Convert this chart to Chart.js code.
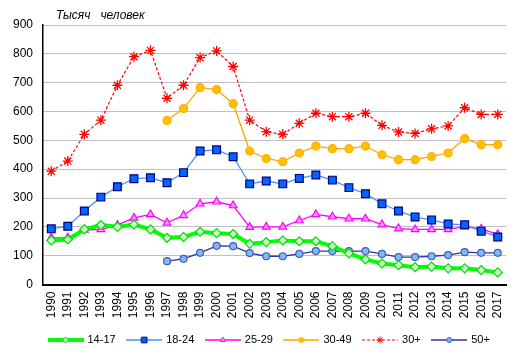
<!DOCTYPE html>
<html>
<head>
<meta charset="utf-8">
<script src="https://cdn.jsdelivr.net/npm/chart.js@4/dist/chart.umd.min.js"></script>
<style>
html,body{margin:0;padding:0;background:#fff;}
canvas{display:block;}
</style>
</head>
<body>
<canvas id="c" width="522" height="359"></canvas>
<script>
const years = ['1990','1991','1992','1993','1994','1995','1996','1997','1998','1999','2000','2001','2002','2003','2004','2005','2006','2007','2008','2009','2010','2011','2012','2013','2014','2015','2016','2017'];
const yTicks = [0,100,200,300,400,500,600,700,800,900];
const unitLabel = 'Тысяч   человек';
const seriesNames = ['14-17','18-24','25-29','30-49','30+','50+'];
const s1417 = [153,156,191,206,200,208,191,162,165,183,178,175,141,147,153,150,150,133,108,87,73,67,60,62,56,56,50,42];
const s1824 = [193,202,255,303,339,367,370,353,388,463,467,443,349,359,349,368,380,362,336,315,280,255,234,224,210,207,185,165];
const s2529 = [162,162,189,191,206,231,243,214,240,280,287,274,199,200,200,222,243,235,228,228,208,194,191,191,191,201,193,174];
const s3049 = [null,null,null,null,null,null,null,569,610,683,676,627,463,437,426,456,480,471,471,480,450,433,433,444,456,506,485,485];
const s30p  = [393,428,521,570,691,790,812,646,691,787,810,756,570,530,521,559,594,582,582,594,552,529,524,540,550,613,590,590];
const s50p  = [null,null,null,null,null,null,null,81,89,110,134,133,109,98,98,106,116,116,116,116,106,95,95,98,102,112,110,110];

const FONT = "Arial, 'Liberation Sans', sans-serif";

const styles = [
  {line:'#00ff00', width:4, dash:[], point:'rectRot', r:4.5, fill:'#ccffcc', border:'#00dd00', lr:3},
  {line:'#4f8fff', width:1.3, dash:[], point:'rect', r:5.5, fill:'#0066ff', border:'#000080', lr:4},
  {line:'#ff00ff', width:1.3, dash:[], point:'triangle', r:4.5, fill:'#ff99ff', border:'#ff00ff', lr:3},
  {line:'#ffa500', width:1.3, dash:[], point:'circle', r:4, fill:'#ffc000', border:'#ffb000', lr:2.5},
  {line:'#ff0000', width:1.2, dash:[3,2], point:'star', r:5, fill:'#ff0000', border:'#ff0000', lr:3.5},
  {line:'#333399', width:1.3, dash:[], point:'circle', r:3.5, fill:'#80b8ff', border:'#4060b0', lr:2.5}
];
const values = [s1417, s1824, s2529, s3049, s30p, s50p];

function makeLegendImage(st) {
  const cv = document.createElement('canvas');
  cv.width = 36; cv.height = 12;
  const ctx = cv.getContext('2d');
  ctx.strokeStyle = st.line;
  ctx.lineWidth = st.width;
  ctx.setLineDash(st.dash);
  ctx.beginPath(); ctx.moveTo(0, 6); ctx.lineTo(36, 6); ctx.stroke();
  ctx.setLineDash([]);
  ctx.fillStyle = st.fill; ctx.strokeStyle = st.border; ctx.lineWidth = 1;
  Chart.helpers.drawPoint(ctx, {pointStyle: st.point, radius: st.lr, borderWidth: 1, rotation: 0}, 18, 6);
  return cv;
}

const datasets = seriesNames.map((name, i) => {
  const st = styles[i];
  return {
    label: name,
    data: values[i],
    borderColor: st.line,
    borderWidth: st.width,
    borderDash: st.dash,
    backgroundColor: st.fill,
    pointStyle: st.point,
    pointRadius: st.r,
    pointHoverRadius: st.r,
    pointBackgroundColor: st.fill,
    pointBorderColor: st.border,
    pointBorderWidth: st.point === 'star' ? 1.3 : 1.2,
    tension: 0,
    fill: false,
    spanGaps: false
  };
});

const unitPlugin = {
  id: 'unitLabel',
  afterLayout(chart) {
    // place legend row where the reference has it
    const lg = chart.legend;
    if (lg) { lg.left = 37; lg.right = 600; }
  },
  afterDraw(chart) {
    const ctx = chart.ctx;
    ctx.save();
    ctx.font = 'italic 12px ' + FONT;
    ctx.fillStyle = '#000';
    ctx.textBaseline = 'alphabetic';
    ctx.fillText(unitLabel, chart.chartArea.left + 13, 19);
    ctx.restore();
  }
};

new Chart(document.getElementById('c'), {
  type: 'line',
  data: { labels: years, datasets },
  plugins: [unitPlugin],
  options: {
    responsive: false,
    animation: false,
    events: [],
    layout: { padding: { top: 25, right: 16, bottom: 3.5, left: 0 } },
    plugins: {
      tooltip: { enabled: false },
      title: { display: false },
      legend: {
        position: 'bottom',
        align: 'start',
        labels: {
          color: '#000',
          font: { family: FONT, size: 11 },
          usePointStyle: true,
          pointStyleWidth: 33,
          padding: 12,
          generateLabels(chart) {
            return chart.data.datasets.map((ds, i) => ({
              text: ds.label,
              pointStyle: makeLegendImage(styles[i]),
              fillStyle: 'transparent',
              strokeStyle: 'transparent',
              lineWidth: 0,
              hidden: false,
              datasetIndex: i,
              fontColor: '#000'
            }));
          }
        }
      }
    },
    scales: {
      x: {
        offset: true,
        grid: { display: false, drawTicks: false },
        border: { display: true, color: '#000', width: 2 },
        ticks: {
          color: '#000', font: { family: FONT, size: 12 },
          minRotation: 90, maxRotation: 90, autoSkip: false, padding: 7
        },
        afterFit(s) { s.height = 38; }
      },
      y: {
        min: 0, max: 900,
        afterBuildTicks(s) { s.ticks = yTicks.map(v => ({ value: v })); },
        grid: { color: '#c0c0c0', lineWidth: 1, drawTicks: false },
        border: { display: true, color: '#000', width: 1.5 },
        ticks: { color: '#000', font: { family: FONT, size: 12 }, padding: 10 },
        afterFit(s) { s.width = 43; }
      }
    }
  }
});
</script>
</body>
</html>
